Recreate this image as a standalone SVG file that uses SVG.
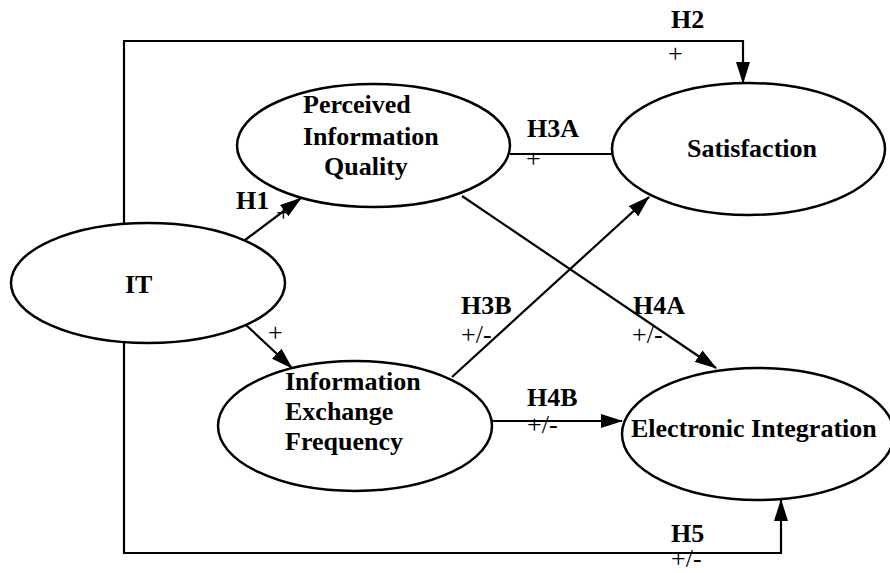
<svg xmlns="http://www.w3.org/2000/svg" width="890" height="573" viewBox="0 0 890 573">
<defs>
<marker id="arr" markerUnits="userSpaceOnUse" markerWidth="22" markerHeight="14" refX="21" refY="7" orient="auto">
<path d="M0,0 L22,7 L0,14 Z" fill="#000"/>
</marker>
<style>
.node{fill:#fff;stroke:#000;stroke-width:2.5}
.lbl{font-family:"Liberation Serif","Times New Roman",serif;font-weight:bold;font-size:26px;fill:#000}
.sgn{font-family:"Liberation Serif","Times New Roman",serif;font-size:26px;fill:#000}
.ln{fill:none;stroke:#000;stroke-width:2.2}
</style>
</defs>
<rect width="890" height="573" fill="#fff"/>
<g id="connectors">
<path class="ln" d="M124,224 V41 H743 V83" marker-end="url(#arr)"/>
<path class="ln" d="M124,343 V553 H781 V500" marker-end="url(#arr)"/>
<path class="ln" d="M245,240 L301,198" marker-end="url(#arr)"/>
<path class="ln" d="M246,325 L292,368" marker-end="url(#arr)"/>
<path class="ln" d="M510,154 H612"/>
<path class="ln" d="M462,196 L716,368" marker-end="url(#arr)"/>
<path class="ln" d="M452,377 L649,197" marker-end="url(#arr)"/>
<path class="ln" d="M492,421 H622" marker-end="url(#arr)"/>
<text class="lbl" x="671" y="28">H2</text>
<text class="sgn" x="668" y="62">+</text>
<text class="lbl" x="527" y="137">H3A</text>
<text class="sgn" x="526" y="167">+</text>
<text class="lbl" x="236" y="209">H1</text>
<text class="sgn" x="276" y="221" font-size="18">+</text>
<text class="sgn" x="268" y="341">+</text>
<text class="lbl" x="461" y="314">H3B</text>
<text class="sgn" x="461" y="343">+/-</text>
<text class="lbl" x="633" y="314">H4A</text>
<text class="sgn" x="632" y="343">+/-</text>
<text class="lbl" x="527" y="406">H4B</text>
<text class="sgn" x="527" y="433">+/-</text>
<text class="lbl" x="671" y="542">H5</text>
<text class="sgn" x="671" y="567">+/-</text>
</g>
<g id="it">
<ellipse class="node" cx="148" cy="283" rx="137" ry="60"/>
<text class="lbl" x="125" y="293">IT</text>
</g>
<g id="piq">
<ellipse class="node" cx="373.5" cy="145.5" rx="136.5" ry="61.5"/>
<text class="lbl" x="303" y="113">Perceived</text>
<text class="lbl" x="303" y="145">Information</text>
<text class="lbl" x="324" y="175">Quality</text>
</g>
<g id="satisfaction">
<ellipse class="node" cx="748.5" cy="149" rx="136.5" ry="66"/>
<text class="lbl" x="687" y="157">Satisfaction</text>
</g>
<g id="ief">
<ellipse class="node" cx="355" cy="426" rx="137" ry="65"/>
<text class="lbl" x="285" y="390">Information</text>
<text class="lbl" x="285" y="420">Exchange</text>
<text class="lbl" x="285" y="450">Frequency</text>
</g>
<g id="ei">
<ellipse class="node" cx="758" cy="434" rx="136" ry="66"/>
<text class="lbl" x="631" y="437">Electronic Integration</text>
</g>
</svg>
